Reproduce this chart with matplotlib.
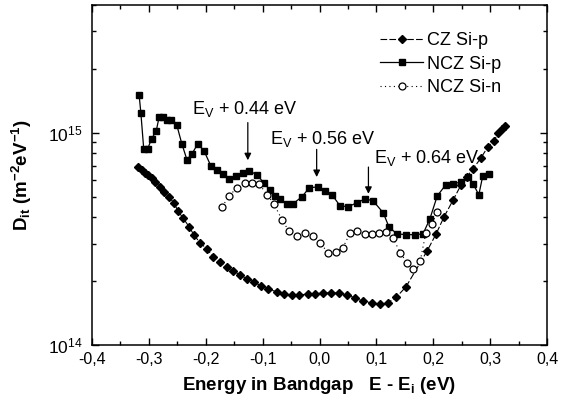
import numpy as np
import matplotlib
matplotlib.use('Agg')
import matplotlib.pyplot as plt
from matplotlib.ticker import FixedLocator, FuncFormatter, LogLocator, NullFormatter, MultipleLocator

plt.rcParams['font.family'] = ['Liberation Sans', 'DejaVu Sans']
plt.rcParams['mathtext.default'] = 'regular'

# CZ Si-p (diamonds)
cz_e = [-0.319, -0.312, -0.307, -0.302, -0.295, -0.289, -0.280, -0.273, -0.265, -0.256,
        -0.249, -0.240, -0.229, -0.221, -0.210, -0.198, -0.187, -0.175, -0.163, -0.152,
        -0.140, -0.127, -0.115, -0.103, -0.091, -0.075, -0.062, -0.048, -0.036, -0.020,
        -0.008, 0.006, 0.020, 0.034, 0.048, 0.062, 0.076, 0.092, 0.106, 0.120,
        0.135, 0.152, 0.189, 0.205, 0.219, 0.235, 0.249, 0.259, 0.270, 0.284,
        0.296, 0.307, 0.314, 0.321, 0.326]
cz_d = [6.92e14, 6.69e14, 6.47e14, 6.34e14, 6.13e14, 5.88e14, 5.56e14, 5.27e14, 4.99e14, 4.68e14,
        4.29e14, 3.97e14, 3.60e14, 3.31e14, 3.03e14, 2.84e14, 2.60e14, 2.46e14, 2.33e14, 2.24e14,
        2.14e14, 2.05e14, 1.98e14, 1.90e14, 1.84e14, 1.78e14, 1.74e14, 1.72e14, 1.72e14, 1.74e14,
        1.74e14, 1.76e14, 1.76e14, 1.76e14, 1.72e14, 1.67e14, 1.61e14, 1.58e14, 1.56e14, 1.58e14,
        1.68e14, 1.88e14, 2.77e14, 3.34e14, 4.02e14, 4.83e14, 5.69e14, 6.20e14, 6.77e14, 7.62e14,
        8.59e14, 9.17e14, 1.00e15, 1.04e15, 1.08e15]

# NCZ Si-p (squares)
nczp_e = [-0.317, -0.314, -0.309, -0.302, -0.295, -0.287, -0.282, -0.275, -0.268, -0.261,
          -0.251, -0.242, -0.233, -0.224, -0.214, -0.203, -0.191, -0.180, -0.170, -0.159,
          -0.147, -0.134, -0.124, -0.110, -0.098, -0.087, -0.078, -0.069, -0.057, -0.047,
          -0.031, -0.018, -0.003, 0.010, 0.022, 0.036, 0.050, 0.066, 0.080, 0.094,
          0.112, 0.122, 0.136, 0.152, 0.168, 0.182, 0.194, 0.207, 0.222, 0.235,
          0.249, 0.261, 0.270, 0.280, 0.287, 0.298]
nczp_d = [1.50e15, 1.24e15, 8.41e14, 8.41e14, 9.37e14, 1.02e15, 1.18e15, 1.19e15, 1.15e15, 1.15e15,
          1.09e15, 8.87e14, 7.46e14, 7.96e14, 8.87e14, 8.22e14, 6.98e14, 6.68e14, 6.41e14, 6.07e14,
          6.27e14, 6.47e14, 6.62e14, 6.34e14, 5.81e14, 5.38e14, 5.04e14, 4.88e14, 4.62e14, 4.62e14,
          4.99e14, 5.50e14, 5.56e14, 5.32e14, 5.10e14, 4.53e14, 4.48e14, 4.68e14, 4.88e14, 4.78e14,
          4.20e14, 3.60e14, 3.34e14, 3.31e14, 3.31e14, 3.34e14, 3.93e14, 5.04e14, 5.69e14, 5.74e14,
          5.87e14, 6.20e14, 5.74e14, 5.10e14, 6.27e14, 6.41e14]

# NCZ Si-n (open circles)
nczn_e = [-0.171, -0.159, -0.145, -0.131, -0.119, -0.106, -0.092, -0.080, -0.066, -0.054,
          -0.040, -0.026, -0.011, 0.001, 0.015, 0.029, 0.041, 0.054, 0.066, 0.080,
          0.092, 0.105, 0.117, 0.129, 0.142, 0.154, 0.164, 0.177, 0.187, 0.198, 0.207]
nczn_d = [4.48e14, 5.04e14, 5.50e14, 5.81e14, 5.81e14, 5.74e14, 5.10e14, 4.62e14, 3.89e14, 3.45e14,
          3.27e14, 3.38e14, 3.27e14, 3.03e14, 2.72e14, 2.75e14, 2.87e14, 3.38e14, 3.45e14, 3.34e14,
          3.34e14, 3.38e14, 3.41e14, 3.20e14, 2.72e14, 2.44e14, 2.28e14, 2.49e14, 3.38e14, 3.73e14, 4.24e14]

labels = ['CZ Si-p', 'NCZ Si-p', 'NCZ Si-n']

# annotations: text, text position, arrow energy, arrow top, arrow tip
ann_text = [r'E$_V$ + 0.44 eV', r'E$_V$ + 0.56 eV', r'E$_V$ + 0.64 eV']
ann_tx = [-0.224, -0.087, 0.096]
ann_ty = [1.30e15, 9.3e14, 7.6e14]
ann_e = [-0.126, -0.005, 0.086]
ann_top = [1.15e15, 8.6e14, 7.1e14]
ann_tip = [7.2e14, 6.0e14, 5.0e14]

fig = plt.figure(figsize=(5.64, 4.05), dpi=100)
ax = fig.add_axes([0.163, 0.148, 0.807, 0.840])

ax.plot(cz_e, cz_d, color='black', lw=0.8, ls=(0, (6, 2)), marker='D', ms=4.2,
        mfc='black', mec='black', label=labels[0], zorder=3)
ax.plot(nczp_e, nczp_d, color='black', lw=0.9, ls='-', marker='s', ms=4.3,
        mfc='black', mec='black', label=labels[1], zorder=4)
ax.plot(nczn_e, nczn_d, color='black', lw=0.8, ls=(0, (1, 3)), marker='o', ms=5,
        mfc='white', mec='black', mew=0.9, label=labels[2], zorder=5)

ax.set_yscale('log')
ax.set_xlim(-0.4, 0.4)
ax.set_ylim(1e14, 4e15)

ax.xaxis.set_major_locator(MultipleLocator(0.1))
ax.xaxis.set_minor_locator(MultipleLocator(0.05))
ax.xaxis.set_major_formatter(FuncFormatter(lambda v, p: f'{v:.1f}'.replace('.', ',').replace('-0,0', '0,0')))
ax.yaxis.set_major_locator(FixedLocator([1e14, 1e15]))
ax.yaxis.set_major_formatter(FuncFormatter(lambda v, p: r'10$^{%d}$' % round(np.log10(v))))
ax.yaxis.set_minor_locator(LogLocator(base=10, subs=np.arange(2, 10)))
ax.yaxis.set_minor_formatter(NullFormatter())

ax.tick_params(which='both', direction='in', top=True, right=True, width=1)
ax.tick_params(axis='x', labelsize=11.5, pad=5)
ax.tick_params(axis='y', labelsize=12.5, pad=7)
ax.tick_params(which='major', length=5)
ax.tick_params(which='minor', length=3)
for s in ax.spines.values():
    s.set_linewidth(1.1)

for e, y0, y1 in zip(ann_e, ann_top, ann_tip):
    ax.annotate('', xy=(e, y1), xytext=(e, y0),
                arrowprops=dict(arrowstyle='-|>', color='black', lw=0.9, mutation_scale=10))
for t, x, y in zip(ann_text, ann_tx, ann_ty):
    ax.text(x, y, t, fontsize=13, va='center')

ax.set_xlabel(r'Energy in Bandgap   E - E$_i$ (eV)', fontsize=13.5, fontweight='bold', labelpad=6)
ax.set_ylabel(r'D$_{it}$ (m$^{-2}$eV$^{-1}$)', fontsize=13.5, fontweight='bold', labelpad=10)

ax.legend(loc='upper right', bbox_to_anchor=(0.915, 0.94), frameon=False, fontsize=13,
          handlelength=2.4, handletextpad=0.2, labelspacing=0.35, borderaxespad=0)

fig.savefig('out.png', dpi=100)
